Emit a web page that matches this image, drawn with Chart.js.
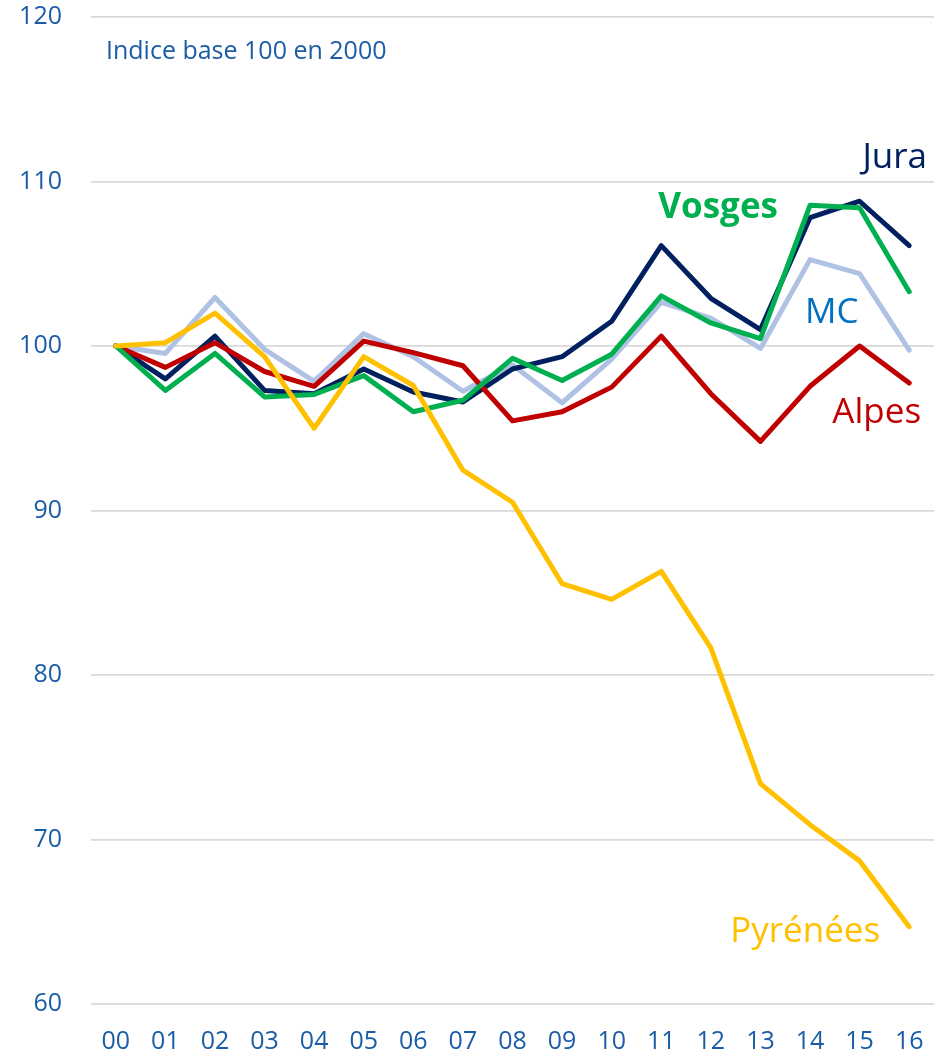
<!DOCTYPE html>
<html>
<head>
<meta charset="utf-8">
<script src="https://cdn.jsdelivr.net/npm/chart.js@4.4.1/dist/chart.umd.min.js"></script>
<style>
html, body { margin: 0; padding: 0; background: #ffffff; }
#wrap { width: 935px; height: 1055px; position: relative; }
</style>
</head>
<body>
<div id="wrap"><canvas id="c"></canvas></div>
<script>
const categories = ['00','01','02','03','04','05','06','07','08','09','10','11','12','13','14','15','16'];
const jura     = [100, 98.0, 100.6, 97.3, 97.1, 98.6, 97.2, 96.6, 98.6, 99.35, 101.5, 106.1, 102.9, 101.0, 107.8, 108.8, 106.1];
const vosges   = [100, 97.3, 99.55, 96.9, 97.05, 98.2, 96.0, 96.7, 99.25, 97.9, 99.5, 103.05, 101.4, 100.45, 108.55, 108.4, 103.3];
const mc       = [100, 99.55, 102.95, 99.8, 97.85, 100.75, 99.35, 97.25, 98.85, 96.55, 99.2, 102.65, 101.7, 99.85, 105.25, 104.4, 99.75];
const alpes    = [100, 98.7, 100.2, 98.45, 97.55, 100.3, 99.6, 98.8, 95.45, 96.0, 97.5, 100.6, 97.1, 94.2, 97.55, 100.0, 97.75];
const pyrenees = [100, 100.2, 102.0, 99.35, 95.0, 99.35, 97.6, 92.45, 90.5, 85.55, 84.6, 86.3, 81.65, 73.4, 70.9, 68.7, 64.7];
const yTicks   = [60, 70, 80, 90, 100, 110, 120];
const subtitle = 'Indice base 100 en 2000';

const FONT = "'Open Sans', 'Liberation Sans', sans-serif";
const TICK_COLOR = '#1A5CA6';

// series labels: [text, x (category index), y (value), color, bold, align]
const seriesLabels = [
  ['Jura',     16.36, 110.82, '#002060', false, 'right'],
  ['Vosges',   10.94, 107.78, '#00B050', true,  'left'],
  ['MC',       13.90, 101.42, '#0070C0', false, 'left'],
  ['Alpes',    14.45,  95.34, '#C00000', false, 'left'],
  ['Pyrénées', 12.39,  63.79, '#FFC000', false, 'left']
];

const labelPlugin = {
  id: 'labels',
  afterDatasetsDraw(chart) {
    const ctx = chart.ctx;
    const xs = chart.scales.x, ys = chart.scales.y;
    ctx.save();
    ctx.textBaseline = 'alphabetic';
    ctx.font = "25px " + FONT;
    ctx.fillStyle = TICK_COLOR;
    ctx.textAlign = 'left';
    ctx.fillText(subtitle, chart.chartArea.left + 15, ys.getPixelForValue(117.43));
    seriesLabels.forEach(([t, xv, yv, col, bold, align]) => {
      ctx.font = (bold ? 'bold ' : '') + "35px " + FONT;
      ctx.fillStyle = col;
      ctx.textAlign = align;
      ctx.fillText(t, xs.getPixelForValue(xv), ys.getPixelForValue(yv));
    });
    ctx.restore();
  }
};

function ds(label, data, color, order) {
  return {
    label, data, borderColor: color, backgroundColor: color,
    borderWidth: 5, pointRadius: 0, pointHoverRadius: 0,
    tension: 0, fill: false, borderCapStyle: 'round', borderJoinStyle: 'round',
    order
  };
}

function zeroPad(scale) {
  scale.paddingTop = 0; scale.paddingBottom = 0;
  scale.paddingLeft = 0; scale.paddingRight = 0;
}

new Chart(document.getElementById('c'), {
  type: 'line',
  data: {
    labels: categories,
    datasets: [
      ds('MC', mc, '#B0C2E4', 5),
      ds('Jura', jura, '#002060', 4),
      ds('Alpes', alpes, '#C00000', 3),
      ds('Vosges', vosges, '#00B050', 2),
      ds('Pyrénées', pyrenees, '#FFC000', 1)
    ]
  },
  options: {
    responsive: true,
    maintainAspectRatio: false,
    animation: false,
    layout: { padding: { top: 17, right: 1, bottom: 0, left: 0 } },
    plugins: { legend: { display: false }, tooltip: { enabled: false } },
    scales: {
      x: {
        offset: true,
        grid: { display: false, drawTicks: false },
        border: { display: false },
        ticks: { color: TICK_COLOR, font: { family: FONT, size: 25 }, padding: 23, maxRotation: 0, autoSkip: false },
        afterFit(scale) { scale.height = 51; zeroPad(scale); }
      },
      y: {
        min: 60, max: 120,
        afterBuildTicks(scale) { scale.ticks = yTicks.map(v => ({ value: v })); },
        grid: { color: '#D9D9D9', lineWidth: 1.8, drawTicks: false },
        border: { display: false },
        ticks: { color: TICK_COLOR, font: { family: FONT, size: 25 }, padding: 29 },
        afterFit(scale) { scale.width = 91; zeroPad(scale); }
      }
    }
  },
  plugins: [labelPlugin]
});
</script>
</body>
</html>
